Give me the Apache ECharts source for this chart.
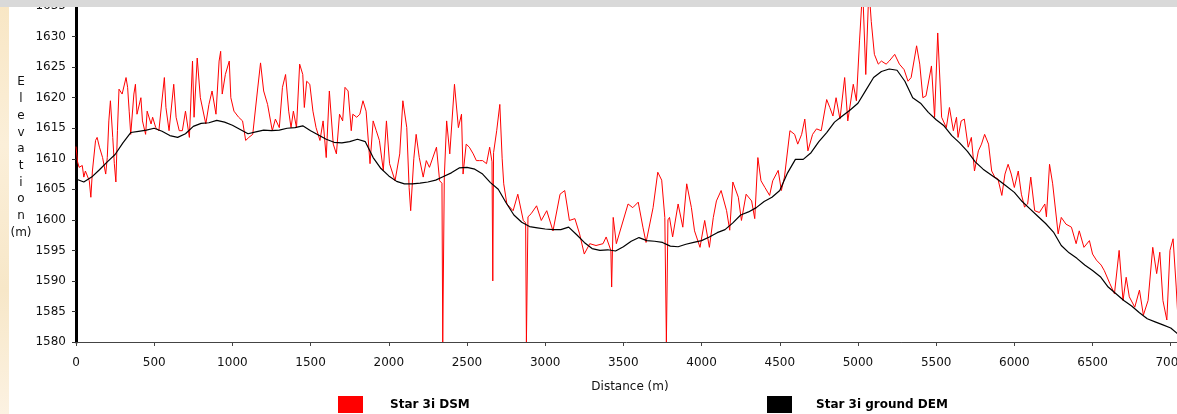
<!DOCTYPE html>
<html>
<head>
<meta charset="utf-8">
<script src="https://cdn.jsdelivr.net/npm/echarts@6/dist/echarts.min.js"></script>
<style>
html, body { margin: 0; padding: 0; background: #ffffff; }
#chart { width: 1177px; height: 414px; }
</style>
</head>
<body>
<div id="chart"></div>
<script>
// Series names shown in the legend
const seriesNames = ['Star 3i DSM', 'Star 3i ground DEM'];

// Axis titles
const xTitle = 'Distance (m)';
const yTitleLines = ['E', 'l', 'e', 'v', 'a', 't', 'i', 'o', 'n', '(m)'];

// Ground DEM: elevation (m) every 50 m along the profile, starting at 0 m
const demStep = 50;
const demElevation = [
  1606.7, 1606.2, 1607.0, 1608.2, 1609.5, 1610.7, 1612.6, 1614.3, 1614.5, 1614.7,
  1615.0, 1614.5, 1613.8, 1613.5, 1614.1, 1615.3, 1615.8, 1615.9, 1616.3, 1616.0,
  1615.5, 1614.8, 1614.1, 1614.4, 1614.7, 1614.6, 1614.7, 1615.0, 1615.1, 1615.4,
  1614.6, 1613.9, 1613.2, 1612.7, 1612.6, 1612.8, 1613.2, 1612.8, 1610.2, 1608.4,
  1607.2, 1606.3, 1605.9, 1605.9, 1606.0, 1606.2, 1606.5, 1607.1, 1607.7, 1608.5,
  1608.6, 1608.3, 1607.5, 1606.1, 1605.0, 1602.8, 1600.8, 1599.6, 1598.9, 1598.7,
  1598.5, 1598.4, 1598.4, 1598.8, 1597.6, 1596.3, 1595.3, 1595.0, 1595.1, 1594.9,
  1595.6, 1596.5, 1597.1, 1596.6, 1596.5, 1596.3, 1595.7, 1595.6, 1596.0, 1596.3,
  1596.6, 1597.2, 1597.9, 1598.4, 1599.5, 1600.8, 1601.3, 1602.0, 1603.0, 1603.7,
  1604.8, 1607.7, 1609.9, 1609.9, 1611.0, 1612.8, 1614.3, 1616.0, 1617.0, 1618.0,
  1619.1, 1621.2, 1623.3, 1624.3, 1624.7, 1624.5, 1622.7, 1620.0, 1619.1, 1617.6,
  1616.4, 1615.4, 1613.8, 1612.6, 1611.2, 1609.5, 1608.3, 1607.4, 1606.5, 1605.5,
  1604.5, 1603.0, 1601.8, 1600.6, 1599.4, 1598.0, 1595.8, 1594.6, 1593.7, 1592.6,
  1591.7, 1590.7, 1589.0, 1587.9, 1586.8, 1585.9, 1584.8, 1583.8, 1583.3, 1582.8,
  1582.3, 1581.2
];

// Surface model (DSM): distance (m) and elevation (m) pairs
const dsmDistance = [
  0, 10, 20, 40, 50, 60, 85, 95, 105, 125, 135, 150, 170, 190, 200, 210, 220, 235, 245, 255,
  265, 275, 295, 320, 330, 340, 350, 370, 380, 390, 415, 425, 445, 455, 480, 490, 510, 530, 565, 575,
  595, 625, 640, 660, 680, 700, 725, 745, 755, 775, 795, 830, 850, 870, 895, 915, 925, 935, 955, 980,
  990, 1010, 1040, 1065, 1085, 1105, 1130, 1160, 1180, 1200, 1225, 1255, 1275, 1300, 1320, 1340, 1360, 1375, 1390, 1410,
  1430, 1450, 1460, 1475, 1495, 1515, 1535, 1560, 1580, 1600, 1620, 1645, 1665, 1685, 1705, 1720, 1740, 1760, 1770, 1795,
  1815, 1835, 1855, 1880, 1900, 1920, 1940, 1965, 1985, 2005, 2040, 2070, 2090, 2115, 2130, 2140, 2160, 2175, 2195, 2220,
  2240, 2260, 2305, 2325, 2340, 2345, 2350, 2355, 2370, 2390, 2420, 2445, 2465, 2475, 2495, 2515, 2540, 2560, 2580, 2600,
  2625, 2645, 2660, 2665, 2670, 2690, 2710, 2725, 2735, 2755, 2795, 2825, 2860, 2875, 2880, 2885, 2890, 2910, 2945, 2975,
  3010, 3050, 3095, 3125, 3155, 3190, 3220, 3250, 3285, 3325, 3370, 3390, 3420, 3425, 3435, 3455, 3530, 3560, 3595, 3625,
  3645, 3690, 3720, 3745, 3765, 3775, 3780, 3785, 3795, 3815, 3850, 3880, 3905, 3935, 3955, 3990, 4020, 4050, 4075, 4095,
  4125, 4160, 4180, 4200, 4235, 4255, 4285, 4320, 4340, 4360, 4380, 4405, 4435, 4455, 4490, 4510, 4530, 4565, 4595, 4615,
  4640, 4660, 4680, 4710, 4735, 4765, 4800, 4820, 4840, 4860, 4885, 4915, 4935, 4970, 4990, 5010, 5030, 5050, 5070, 5085,
  5105, 5130, 5150, 5180, 5200, 5235, 5265, 5295, 5320, 5340, 5375, 5395, 5415, 5435, 5470, 5490, 5510, 5535, 5565, 5585,
  5610, 5630, 5640, 5660, 5680, 5705, 5725, 5745, 5770, 5790, 5810, 5835, 5855, 5875, 5895, 5920, 5940, 5960, 5980, 6000,
  6025, 6045, 6065, 6085, 6105, 6130, 6160, 6195, 6205, 6225, 6245, 6280, 6300, 6330, 6365, 6395, 6415, 6445, 6480, 6500,
  6525, 6555, 6575, 6610, 6640, 6670, 6695, 6715, 6735, 6770, 6800, 6825, 6855, 6885, 6910, 6930, 6950, 6975, 6995, 7015,
  7035, 7050
];
const dsmElevation = [
  1612.0, 1609.5, 1608.6, 1608.9, 1607.0, 1608.0, 1606.4, 1603.7, 1608.0, 1613.0, 1613.5, 1611.9, 1610.2, 1607.5, 1610.2, 1616.2, 1619.5, 1613.5, 1609.2, 1606.2,
  1614.6, 1621.4, 1620.6, 1623.3, 1621.7, 1617.8, 1614.0, 1620.6, 1622.2, 1617.3, 1620.0, 1616.2, 1614.0, 1617.8, 1615.7, 1616.8, 1615.1, 1614.6, 1623.3, 1618.4,
  1614.6, 1622.2, 1616.8, 1614.6, 1614.6, 1617.8, 1613.5, 1626.0, 1616.8, 1626.5, 1620.0, 1615.7, 1618.9, 1621.1, 1617.3, 1626.0, 1627.6, 1620.6, 1623.8, 1626.0,
  1620.0, 1617.8, 1616.8, 1616.2, 1613.0, 1613.5, 1614.0, 1621.1, 1625.7, 1621.1, 1618.9, 1614.6, 1616.5, 1615.1, 1621.7, 1623.8, 1617.8, 1615.1, 1617.8, 1615.1,
  1625.5, 1623.8, 1618.4, 1622.7, 1622.2, 1617.8, 1615.1, 1613.0, 1616.2, 1610.2, 1621.1, 1612.4, 1610.8, 1617.3, 1616.2, 1621.7, 1621.1, 1614.6, 1617.3, 1616.8,
  1617.3, 1619.5, 1617.8, 1609.2, 1616.2, 1614.6, 1613.0, 1608.1, 1616.2, 1609.2, 1606.4, 1610.8, 1619.5, 1615.1, 1605.3, 1601.5, 1610.0, 1614.0, 1610.2, 1607.0,
  1609.7, 1608.6, 1611.9, 1606.4, 1606.0, 1580.0, 1580.0, 1607.0, 1616.2, 1610.8, 1622.2, 1615.1, 1617.3, 1607.5, 1612.4, 1611.9, 1610.8, 1609.7, 1609.7, 1609.7,
  1609.2, 1611.9, 1609.5, 1590.0, 1611.0, 1614.6, 1618.9, 1610.0, 1605.9, 1602.6, 1601.5, 1604.2, 1599.9, 1599.5, 1580.0, 1580.0, 1600.5, 1601.0, 1602.3, 1599.9,
  1601.5, 1598.2, 1604.2, 1604.8, 1599.9, 1600.2, 1597.7, 1594.4, 1596.1, 1595.8, 1596.1, 1597.2, 1595.0, 1589.0, 1600.4, 1596.1, 1602.6, 1602.0, 1602.9, 1598.8,
  1596.3, 1602.0, 1607.8, 1606.5, 1600.4, 1580.0, 1580.0, 1600.0, 1600.4, 1597.2, 1602.6, 1598.8, 1605.9, 1602.0, 1598.2, 1595.5, 1599.9, 1595.5, 1600.4, 1603.1,
  1604.8, 1601.5, 1598.3, 1606.2, 1603.7, 1599.9, 1604.2, 1603.1, 1600.2, 1610.2, 1606.4, 1605.3, 1604.0, 1606.4, 1608.1, 1604.8, 1607.0, 1614.6, 1614.0, 1612.4,
  1614.0, 1616.5, 1611.3, 1614.0, 1614.9, 1614.6, 1619.7, 1618.4, 1617.0, 1620.0, 1616.5, 1623.3, 1616.2, 1622.2, 1619.5, 1629.3, 1638.0, 1623.8, 1638.0, 1632.5,
  1627.1, 1625.5, 1626.0, 1625.5, 1626.0, 1627.1, 1625.5, 1624.6, 1622.7, 1623.3, 1628.5, 1625.5, 1620.0, 1620.3, 1625.2, 1616.8, 1630.6, 1616.8, 1615.1, 1618.4,
  1614.6, 1616.8, 1613.5, 1616.2, 1616.5, 1611.9, 1613.5, 1608.0, 1611.3, 1612.4, 1614.0, 1612.4, 1608.0, 1607.0, 1606.7, 1604.0, 1607.5, 1609.1, 1607.5, 1605.3,
  1608.0, 1604.2, 1602.1, 1602.6, 1607.0, 1601.5, 1601.2, 1602.6, 1600.5, 1609.1, 1605.9, 1597.7, 1600.4, 1599.3, 1598.8, 1596.1, 1598.2, 1595.5, 1596.6, 1594.4,
  1593.4, 1592.6, 1591.7, 1589.6, 1587.9, 1595.0, 1586.8, 1590.6, 1587.4, 1585.7, 1588.5, 1584.4, 1586.8, 1595.5, 1591.2, 1594.7, 1586.8, 1583.6, 1595.0, 1596.9,
  1589.0, 1582.0
];

// Build [distance, elevation] pairs for the value axes
const demData = demElevation.map((v, i) => [i * demStep, v]);
const dsmData = dsmDistance.map((d, i) => [d, dsmElevation[i]]);

const labelFont = { fontFamily: 'DejaVu Sans', fontSize: 12, color: '#111111' };
const legendText = (gap) => ({
  fontFamily: 'DejaVu Sans', fontSize: 12, fontWeight: 'bold', color: '#000000', padding: [0, 0, 0, gap]
});
const plainNumber = (v) => String(v);

const chart = echarts.init(document.getElementById('chart'), null, { renderer: 'canvas' });

chart.setOption({
  animation: false,
  backgroundColor: '#ffffff',
  grid: { left: 76, right: 0, top: 0, bottom: 72, containLabel: false, outerBoundsMode: 'none' },
  legend: [
    {
      data: [seriesNames[0]], left: 338, top: 396, padding: 0, icon: 'rect',
      itemWidth: 25, itemHeight: 17, selectedMode: false, textStyle: legendText(22)
    },
    {
      data: [seriesNames[1]], left: 767, top: 396, padding: 0, icon: 'rect',
      itemWidth: 25, itemHeight: 17, selectedMode: false, textStyle: legendText(19)
    }
  ],
  xAxis: {
    type: 'value',
    min: 0,
    max: 7040,
    interval: 500,
    name: xTitle,
    nameLocation: 'middle',
    nameGap: 39,
    nameTextStyle: Object.assign({}, labelFont, { padding: [0, 0, 0, 7] }),
    axisLine: { show: true, onZero: false, lineStyle: { color: '#444444', width: 1 } },
    axisTick: { show: true, length: 4, lineStyle: { color: '#444444' } },
    axisLabel: Object.assign({}, labelFont, { margin: 15, showMaxLabel: false, formatter: plainNumber }),
    splitLine: { show: false }
  },
  yAxis: {
    type: 'value',
    min: 1580,
    max: 1636,
    interval: 5,
    axisLine: { show: true, onZero: false, lineStyle: { color: '#000000', width: 3 } },
    axisTick: { show: true, length: 4, lineStyle: { color: '#333333' } },
    axisLabel: Object.assign({}, labelFont, { margin: 10, showMaxLabel: false, formatter: plainNumber }),
    splitLine: { show: false }
  },
  series: [
    {
      name: seriesNames[0],
      type: 'line',
      data: dsmData,
      showSymbol: false,
      symbol: 'none',
      clip: true,
      lineStyle: { color: '#ff0000', width: 1 },
      itemStyle: { color: '#ff0000' },
      z: 2
    },
    {
      name: seriesNames[1],
      type: 'line',
      data: demData,
      showSymbol: false,
      symbol: 'none',
      clip: true,
      lineStyle: { color: '#000000', width: 1.2 },
      itemStyle: { color: '#000000' },
      z: 3
    }
  ],
  graphic: [
    {
      type: 'rect', left: 0, top: 0, z: 50, silent: true,
      shape: { width: 9, height: 414 },
      style: {
        fill: new echarts.graphic.LinearGradient(0, 0, 0, 1, [
          { offset: 0, color: '#f8e6c4' },
          { offset: 0.35, color: '#fbefd9' },
          { offset: 0.7, color: '#f7e7c8' },
          { offset: 1, color: '#fcf2e2' }
        ])
      }
    },
    {
      type: 'rect', left: 0, top: 0, z: 60, silent: true,
      shape: { width: 1177, height: 7 },
      style: { fill: '#d9d9d9' }
    },
    {
      type: 'text', x: 21, y: 74, z: 50, silent: true,
      style: {
        text: yTitleLines.join('\n'),
        fontFamily: 'DejaVu Sans', fontSize: 12, lineHeight: 16.7,
        fill: '#111111', align: 'center', verticalAlign: 'top'
      }
    }
  ]
});
</script>
</body>
</html>
